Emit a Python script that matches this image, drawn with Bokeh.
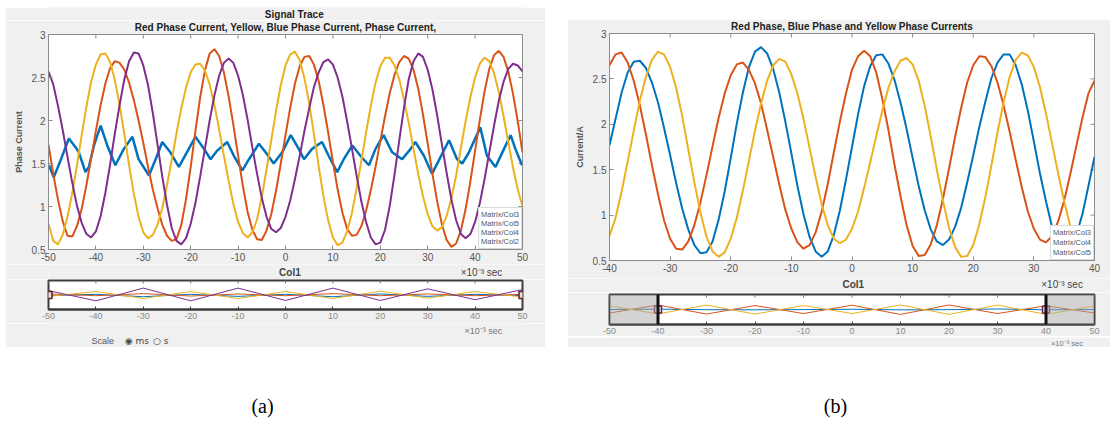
import math
from bokeh.plotting import figure
from bokeh.models import (Range1d, FixedTicker, Label, Legend, LegendItem,
                          BoxAnnotation, Span, Spacer)
from bokeh.layouts import row, column
from bokeh.embed import file_html
from bokeh.resources import INLINE

# ---------------- data (a) : Signal Trace ----------------
x_a = list(range(-50, 51))          # time, x10^-3 s
yellow_a = [0.80, 0.60, 0.56, 0.67, 0.88, 1.15, 1.48, 1.83, 2.16, 2.45,
            2.65, 2.77, 2.78, 2.68, 2.47, 2.18, 1.84, 1.48, 1.15, 0.88,
            0.70, 0.63, 0.67, 0.79, 0.98, 1.25, 1.54, 1.85, 2.14, 2.38,
            2.56, 2.65, 2.66, 2.58, 2.42, 2.18, 1.90, 1.59, 1.30, 1.03,
            0.82, 0.69, 0.64, 0.70, 0.85, 1.11, 1.43, 1.77, 2.11, 2.41,
            2.64, 2.77, 2.80, 2.70, 2.49, 2.20, 1.84, 1.47, 1.12, 0.84,
            0.64, 0.55, 0.58, 0.71, 0.92, 1.21, 1.53, 1.86, 2.17, 2.44,
            2.63, 2.73, 2.73, 2.64, 2.48, 2.24, 1.97, 1.67, 1.38, 1.12,
            0.91, 0.77, 0.72, 0.76, 0.89, 1.10, 1.36, 1.68, 1.99, 2.27,
            2.50, 2.66, 2.73, 2.69, 2.55, 2.33, 2.05, 1.75, 1.45, 1.20, 1.00]
orange_a = [1.72, 1.38, 1.08, 0.83, 0.66, 0.65, 0.77, 0.97, 1.25, 1.56,
            1.88, 2.18, 2.43, 2.61, 2.69, 2.67, 2.59, 2.44, 2.24, 2.00,
            1.74, 1.46, 1.20, 0.98, 0.79, 0.66, 0.60, 0.62, 0.78, 1.08,
            1.46, 1.88, 2.27, 2.58, 2.78, 2.83, 2.75, 2.56, 2.28, 1.95,
            1.59, 1.24, 0.94, 0.73, 0.62, 0.61, 0.72, 0.91, 1.18, 1.50,
            1.83, 2.15, 2.43, 2.63, 2.74, 2.75, 2.65, 2.46, 2.18, 1.86,
            1.52, 1.20, 0.93, 0.74, 0.66, 0.67, 0.77, 0.95, 1.19, 1.46,
            1.76, 2.05, 2.32, 2.53, 2.68, 2.75, 2.72, 2.59, 2.37, 2.07,
            1.73, 1.38, 1.06, 0.79, 0.61, 0.53, 0.57, 0.72, 0.97, 1.29,
            1.65, 2.01, 2.34, 2.60, 2.76, 2.81, 2.74, 2.57, 2.31, 1.99, 1.63]
purple_a = [2.57, 2.42, 2.17, 1.89, 1.58, 1.28, 1.01, 0.81, 0.68, 0.64,
            0.71, 0.89, 1.16, 1.49, 1.85, 2.18, 2.48, 2.69, 2.79, 2.78,
            2.64, 2.41, 2.09, 1.72, 1.35, 1.02, 0.75, 0.60, 0.56, 0.63,
            0.80, 1.04, 1.35, 1.67, 2.00, 2.29, 2.52, 2.67, 2.72, 2.67,
            2.52, 2.30, 2.01, 1.69, 1.38, 1.10, 0.88, 0.74, 0.70, 0.75,
            0.88, 1.07, 1.32, 1.59, 1.88, 2.14, 2.39, 2.56, 2.68, 2.71,
            2.65, 2.50, 2.28, 1.99, 1.68, 1.36, 1.06, 0.82, 0.64, 0.56,
            0.58, 0.73, 1.01, 1.37, 1.77, 2.15, 2.48, 2.69, 2.78, 2.74,
            2.59, 2.36, 2.06, 1.72, 1.39, 1.08, 0.84, 0.68, 0.63, 0.68,
            0.82, 1.04, 1.32, 1.63, 1.94, 2.23, 2.45, 2.60, 2.66, 2.64, 2.57]
blue_a_x = [-49.9, -48.9, -47.5, -45.7, -44.3, -43.6, -42.2, -41.5, -40.4, -39.0,
            -37.6, -35.9, -34.1, -32.3, -31.0, -28.8, -27.4, -26.0, -24.3, -22.5,
            -20.4, -19.0, -17.2, -15.8, -14.4, -12.3, -10.9, -9.1, -7.7, -5.6,
            -4.2, -2.5, -0.7, 1.1, 2.8, 3.9, 5.6, 7.7, 9.1, 10.9,
            12.3, 14.1, 15.8, 17.6, 19.0, 20.7, 22.5, 24.6, 26.4, 27.4,
            29.2, 30.9, 32.3, 34.5, 36.2, 37.3, 38.7, 41.1, 42.5, 44.3,
            46.1, 47.5, 48.5, 49.9]
blue_a_y = [1.48, 1.34, 1.53, 1.79, 1.69, 1.63, 1.40, 1.46, 1.71, 1.94,
            1.71, 1.48, 1.67, 1.81, 1.55, 1.36, 1.55, 1.75, 1.63, 1.46,
            1.67, 1.81, 1.67, 1.55, 1.65, 1.75, 1.59, 1.42, 1.55, 1.73,
            1.63, 1.50, 1.63, 1.83, 1.67, 1.55, 1.67, 1.75, 1.59, 1.40,
            1.55, 1.71, 1.59, 1.48, 1.67, 1.83, 1.63, 1.55, 1.67, 1.75,
            1.59, 1.38, 1.53, 1.77, 1.55, 1.50, 1.63, 1.92, 1.59, 1.46,
            1.67, 1.83, 1.67, 1.48]
labels_a = ["Matrix/Col3", "Matrix/Col5", "Matrix/Col4", "Matrix/Col2"]

# navigator (a) overview traces
nav_x = list(range(-50, 51, 10))
nav_a_purple = [2.23, 0.76, 2.60, 0.76, 2.60, 0.81, 2.60, 0.81, 2.49, 0.92, 2.39]
nav_a_yellow = [1.40, 2.10, 1.10, 2.10, 1.10, 2.10, 1.10, 2.15, 1.15, 2.10, 1.30]
nav_a_orange = [1.75, 1.50, 1.80, 1.45, 1.75, 1.50, 1.80, 1.50, 1.75, 1.50, 1.70]
nav_a_blue = [1.50, 1.70, 1.35, 1.70, 1.40, 1.70, 1.35, 1.75, 1.40, 1.70, 1.50]

# ---------------- data (b) ----------------
x_b = list(range(-40, 41))
blue_b = [1.77, 2.06, 2.35, 2.57, 2.69, 2.70, 2.62, 2.46, 2.24, 1.96,
          1.66, 1.35, 1.07, 0.84, 0.67, 0.58, 0.59, 0.71, 0.95, 1.26,
          1.63, 2.01, 2.35, 2.63, 2.80, 2.85, 2.78, 2.61, 2.35, 2.03,
          1.68, 1.32, 1.01, 0.76, 0.60, 0.54, 0.60, 0.78, 1.05, 1.39,
          1.75, 2.11, 2.42, 2.64, 2.76, 2.77, 2.67, 2.49, 2.24, 1.95,
          1.63, 1.32, 1.05, 0.84, 0.71, 0.67, 0.73, 0.87, 1.08, 1.36,
          1.66, 1.97, 2.25, 2.51, 2.68, 2.77, 2.77, 2.65, 2.44, 2.15,
          1.81, 1.46, 1.15, 0.87, 0.68, 0.60, 0.64, 0.78, 1.01, 1.32, 1.64]
orange_b = [2.65, 2.77, 2.79, 2.68, 2.48, 2.21, 1.89, 1.55, 1.23, 0.94,
            0.74, 0.63, 0.62, 0.71, 0.89, 1.14, 1.44, 1.76, 2.07, 2.34,
            2.54, 2.66, 2.68, 2.60, 2.45, 2.23, 1.94, 1.64, 1.34, 1.06,
            0.85, 0.70, 0.63, 0.67, 0.81, 1.04, 1.34, 1.69, 2.03, 2.34,
            2.60, 2.75, 2.81, 2.75, 2.57, 2.28, 1.94, 1.56, 1.21, 0.89,
            0.66, 0.55, 0.56, 0.68, 0.89, 1.18, 1.51, 1.86, 2.18, 2.46,
            2.65, 2.75, 2.74, 2.64, 2.46, 2.21, 1.92, 1.61, 1.31, 1.04,
            0.85, 0.73, 0.70, 0.77, 0.93, 1.16, 1.45, 1.76, 2.07, 2.34, 2.48]
yellow_b = [0.77, 0.97, 1.26, 1.59, 1.93, 2.26, 2.52, 2.71, 2.80, 2.77,
            2.63, 2.40, 2.09, 1.72, 1.36, 1.03, 0.76, 0.60, 0.54, 0.59,
            0.74, 0.97, 1.27, 1.60, 1.93, 2.23, 2.48, 2.65, 2.72, 2.69,
            2.55, 2.34, 2.06, 1.74, 1.42, 1.12, 0.89, 0.74, 0.69, 0.73,
            0.85, 1.04, 1.30, 1.58, 1.87, 2.15, 2.40, 2.58, 2.70, 2.73,
            2.66, 2.48, 2.20, 1.86, 1.50, 1.16, 0.86, 0.65, 0.54, 0.55,
            0.67, 0.90, 1.20, 1.55, 1.91, 2.24, 2.52, 2.71, 2.79, 2.76,
            2.63, 2.41, 2.12, 1.79, 1.46, 1.15, 0.88, 0.70, 0.61, 0.62, 0.68]
labels_b = ["Matrix/Col3", "Matrix/Col4", "Matrix/Col5"]

nav_b_blue = [1.70, 1.77, 1.66, 1.63, 1.68, 1.75, 1.63, 1.66, 1.81, 1.64, 1.70]
nav_b_orange = [0.96, 2.65, 0.74, 2.54, 0.85, 2.60, 0.66, 2.65, 0.85, 2.48, 0.96]
nav_b_yellow = [2.44, 0.77, 2.63, 0.74, 2.55, 0.85, 2.66, 0.67, 2.63, 0.68, 2.44]

xticks_a = list(range(-50, 51, 10))
xticks_b = list(range(-40, 41, 10))
yticks = [0.5, 1, 1.5, 2, 2.5, 3]

# ---------------- style ----------------
BLUE, ORANGE, YELLOW, PURPLE = "#0072BD", "#D95319", "#EDB120", "#7E2F8E"
PANEL = "#f0f0f0"
FONT = "Liberation Sans"
AX = "#8c8c8c"
TXT = "#555555"


def cfg_axis(ax, ticks, size="10px", color=TXT, line_color=AX, lw=1, tick_in=4):
    ax.ticker = FixedTicker(ticks=ticks)
    ax.major_label_overrides = {t: f"{t:g}" for t in ticks}
    ax.major_tick_in = tick_in
    ax.major_tick_out = 0
    ax.minor_tick_line_color = None
    ax.axis_line_color = line_color
    ax.axis_line_width = lw
    ax.major_tick_line_color = line_color
    ax.major_label_text_font = FONT
    ax.major_label_text_color = color
    ax.major_label_text_font_size = size
    ax.major_label_standoff = 3


def inner_ticks(p, xt, yt, length, color, right=True):
    xe = p.x_range.end
    ye = p.y_range.end
    p.ray(x=xt, y=[ye] * len(xt), length=length, length_units="screen",
          angle=-math.pi / 2, line_color=color, line_width=1)
    if right:
        p.ray(x=[xe] * len(yt), y=yt, length=length, length_units="screen",
              angle=math.pi, line_color=color, line_width=1)


def make_fig(w, h, xr, yr, bl, br, bt, bb, xt, yt, xsize="10px", xcolor=TXT,
             line_color=AX, lw=1, tick_in=4, show_y=True, title=None):
    p = figure(width=w, height=h, x_range=Range1d(*xr), y_range=Range1d(*yr),
               output_backend="svg", toolbar_location=None,
               min_border_left=bl, min_border_right=br, min_border_top=bt, min_border_bottom=bb,
               background_fill_color="white", border_fill_color=PANEL,
               outline_line_color=line_color, outline_line_width=lw)
    if title:
        p.title.text = title
        p.title.align = "center"
        p.title.vertical_align = "top"
        p.title.standoff = 0
        p.title.text_font = FONT
        p.title.text_font_size = "10px"
        p.title.text_font_style = "bold"
        p.title.text_color = "#222222"
    p.xgrid.visible = False
    p.ygrid.visible = False
    cfg_axis(p.below[0], xt, xsize, xcolor, line_color, lw, tick_in)
    if show_y:
        cfg_axis(p.left[0], yt, "10px", TXT, line_color, lw, tick_in)
    else:
        p.left[0].visible = False
    inner_ticks(p, xt, yt, tick_in, line_color if show_y else "#777777", right=show_y)
    return p


def strip(w, h):
    s = figure(width=w, height=h, x_range=Range1d(0, w), y_range=Range1d(h, 0),
               output_backend="svg", toolbar_location=None, min_border=0,
               x_axis_location=None, y_axis_location=None, outline_line_color=None,
               background_fill_color=PANEL, border_fill_color=PANEL)
    s.xgrid.visible = False
    s.ygrid.visible = False
    return s


def lab(p, x, y, text, size="10px", bold=False, align="center",
        color="#333333", font=FONT):
    p.add_layout(Label(x=x, y=y, text=text,
                       text_font=font, text_font_size=size,
                       text_font_style="bold" if bold else "normal",
                       text_align=align, text_baseline="middle", text_color=color))


def text_legend(p, items, size="7.5px", spacing=0):
    leg = Legend(items=items, location="bottom_right", glyph_width=0, glyph_height=8,
                 label_height=8, label_standoff=0, padding=2, spacing=spacing, margin=0,
                 label_text_font=FONT, label_text_font_size=size, label_text_color=TXT,
                 border_line_color="#b4b4b4", background_fill_color="white",
                 background_fill_alpha=1.0)
    p.add_layout(leg)


def ylabel(p, text):
    ax = p.left[0]
    ax.axis_label = text
    ax.axis_label_text_font = FONT
    ax.axis_label_text_font_size = "9px"
    ax.axis_label_text_font_style = "bold"
    ax.axis_label_text_color = "#555555"
    ax.axis_label_standoff = 5


# ================= panel (a) =================
WA = 540
sa_top = strip(WA, 13)
lab(sa_top, 280, 7, "Signal Trace", bold=True, color="#222222")

pa = make_fig(WA, 244, (-50, 50), (0.5, 3), 43, 23, 14, 15, xticks_a, yticks,
              title="Red Phase Current, Yellow, Blue Phase Current, Phase Current,")
ylabel(pa, "Phase Current")
rb = pa.line(blue_a_x, blue_a_y, line_color=BLUE, line_width=2.5)
ro = pa.line(x_a, orange_a, line_color=ORANGE, line_width=2)
ry = pa.line(x_a, yellow_a, line_color=YELLOW, line_width=2)
rp = pa.line(x_a, purple_a, line_color=PURPLE, line_width=2)
text_legend(pa, [LegendItem(label=l, renderers=[r]) for l, r in zip(labels_a, [rb, ro, ry, rp])])

sa_mid = strip(WA, 15)
lab(sa_mid, 275, 8, "Col1", bold=True, color="#444444")
lab(sa_mid, 517, 8, "×10⁻³ sec", align="right", color="#444444")

na_lo, na_hi = -50, 50
na_y = (-0.5, 3.7)
na = make_fig(WA, 44, (na_lo, na_hi), na_y, 43, 23, 1, 14, xticks_a, yticks,
              xsize="9px", xcolor="#8a8a8a", line_color="#3c3c3c", lw=2, tick_in=3,
              show_y=False)
na.line(nav_x, nav_a_blue, line_color=BLUE, line_width=1)
na.line(nav_x, nav_a_orange, line_color=ORANGE, line_width=1)
na.line(nav_x, nav_a_yellow, line_color=YELLOW, line_width=1)
na.line(nav_x, nav_a_purple, line_color=PURPLE, line_width=1)
mid_a = (na_y[0] + na_y[1]) / 2
na.scatter([na_lo, na_hi], [mid_a, mid_a], marker="square", size=7,
           fill_color="#e8dede", line_color="#5a1e1e", line_width=1.5)

sa_bot = strip(WA, 24)
lab(sa_bot, 517, 7, "×10⁻³ sec", size="9px", align="right", color="#777777")
lab(sa_bot, 49, 17, "Scale", size="9px", align="left", color="#555555")
lab(sa_bot, 87, 17, "◉ ms", size="9px", align="left", color="#444444", font="DejaVu Sans")
lab(sa_bot, 119, 17, "○ s", size="9px", align="left", color="#444444", font="DejaVu Sans")

# ================= panel (b) =================
WB = 543
pb = make_fig(WB, 259, (-40, 40), (0.5, 3), 42, 11, 14, 18, xticks_b, yticks,
              title="Red Phase, Blue Phase and Yellow Phase Currents")
ylabel(pb, "Current/A")
r1 = pb.line(x_b, blue_b, line_color=BLUE, line_width=2)
r2 = pb.line(x_b, orange_b, line_color=ORANGE, line_width=2)
r3 = pb.line(x_b, yellow_b, line_color=YELLOW, line_width=2)
text_legend(pb, [LegendItem(label=l, renderers=[r]) for l, r in zip(labels_b, [r1, r2, r3])],
            spacing=1)

sb_mid = strip(WB, 14)
lab(sb_mid, 273, 6, "Col1", bold=True, color="#444444")
lab(sb_mid, 530, 6, "×10⁻³ sec", align="right", color="#444444")

nb_y = (-1.45, 4.85)
nb = make_fig(WB, 44, (-50, 50), nb_y, 42, 16, 2, 12, xticks_a, yticks,
              xsize="9px", xcolor="#8a8a8a", line_color="#3c3c3c", lw=2, tick_in=3,
              show_y=False)
nb.line(nav_x, nav_b_blue, line_color=BLUE, line_width=1)
nb.line(nav_x, nav_b_orange, line_color=ORANGE, line_width=1)
nb.line(nav_x, nav_b_yellow, line_color=YELLOW, line_width=1)
b_lo, b_hi = pb.x_range.start, pb.x_range.end
nb.add_layout(BoxAnnotation(right=b_lo, fill_color="#a8a8a8", fill_alpha=0.5, line_color=None))
nb.add_layout(BoxAnnotation(left=b_hi, fill_color="#a8a8a8", fill_alpha=0.5, line_color=None))
nb.add_layout(Span(location=b_lo, dimension="height", line_color="#111111", line_width=3))
nb.add_layout(Span(location=b_hi, dimension="height", line_color="#111111", line_width=3))
mid_b = (nb_y[0] + nb_y[1]) / 2
nb.scatter([b_lo, b_hi], [mid_b, mid_b], marker="square", size=7,
           fill_color="#ece4ec", line_color="#6a2050", line_width=1.5)

sb_bot = strip(WB, 11)
lab(sb_bot, 530, 5.5, "×10⁻³ sec", size="7.5px", align="right", color="#777777")

# ================= captions =================
cap = figure(width=1110, height=75, x_range=Range1d(0, 1110), y_range=Range1d(422, 347),
             output_backend="svg", toolbar_location=None, min_border=0,
             x_axis_location=None, y_axis_location=None, outline_line_color=None,
             background_fill_color="white", border_fill_color="white")
cap.xgrid.visible = False
cap.ygrid.visible = False
lab(cap, 262, 405, "(a)", size="20px", color="#000000", font="Liberation Serif")
lab(cap, 835, 405, "(b)", size="20px", color="#000000", font="Liberation Serif")

col_a = column(Spacer(width=WA, height=7), sa_top, pa, sa_mid, na, sa_bot, spacing=0)
col_b = column(Spacer(width=WB, height=19), pb, sb_mid, nb, sb_bot, spacing=0)
top_row = row(Spacer(width=5, height=347), col_a, Spacer(width=22, height=347), col_b,
              spacing=0)
layout = column(top_row, cap, spacing=0)

open("out.html", "w").write(file_html(layout, INLINE))
